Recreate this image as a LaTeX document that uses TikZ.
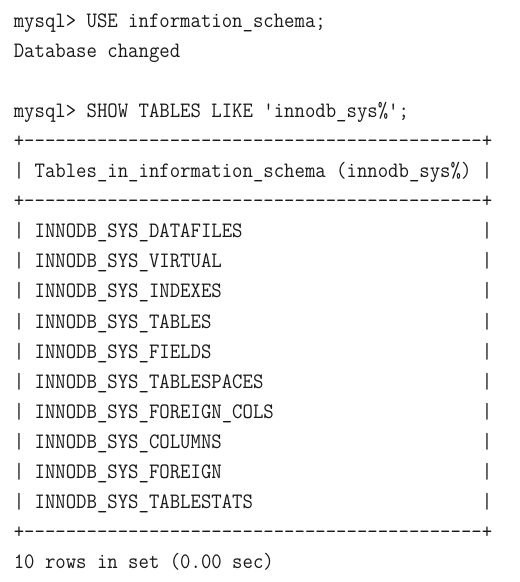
\documentclass[tikz,border=0pt]{standalone}
\usepackage{fontspec}
\setmonofont[FakeStretch=0.918]{Latin Modern Mono}
\newlength\cw
\newcommand\mfont{\ttfamily\fontsize{22pt}{30pt}\selectfont\frenchspacing}
\newcommand\padto[2]{\settowidth{\cw}{0}\makebox[#1\cw][l]{#2}}
\newcommand\dashrule{+\foreach \i in {1,...,44}{-}+}
\tikzset{
  ln/.style={anchor=base west, inner sep=0pt, outer sep=0pt, font=\mfont, text=black!90}
}
\begin{document}
\begin{tikzpicture}[x=1pt,y=1pt]
\useasboundingbox (0,0) rectangle (520,-582);
\def\xo{13.8}
\node[ln] (l0)  at (\xo,-27.0)  {mysql> USE information\_schema;};
\node[ln] (l1)  at (\xo,-57.1)  {Database changed};
\node[ln] (l3)  at (\xo,-117.3) {mysql> SHOW TABLES LIKE 'innodb\_sys\%';};
\node[ln] (l4)  at (\xo,-147.4) {\dashrule};
\node[ln] (l5)  at (\xo,-177.5) {| Tables\_in\_information\_schema (innodb\_sys\%) |};
\node[ln] (l6)  at (\xo,-207.6) {\dashrule};
\node[ln] (r1)  at (\xo,-237.7) {| \padto{42}{INNODB\_SYS\_DATAFILES} |};
\node[ln] (r2)  at (\xo,-267.8) {| \padto{42}{INNODB\_SYS\_VIRTUAL} |};
\node[ln] (r3)  at (\xo,-297.9) {| \padto{42}{INNODB\_SYS\_INDEXES} |};
\node[ln] (r4)  at (\xo,-328.0) {| \padto{42}{INNODB\_SYS\_TABLES} |};
\node[ln] (r5)  at (\xo,-358.1) {| \padto{42}{INNODB\_SYS\_FIELDS} |};
\node[ln] (r6)  at (\xo,-388.2) {| \padto{42}{INNODB\_SYS\_TABLESPACES} |};
\node[ln] (r7)  at (\xo,-418.3) {| \padto{42}{INNODB\_SYS\_FOREIGN\_COLS} |};
\node[ln] (r8)  at (\xo,-448.4) {| \padto{42}{INNODB\_SYS\_COLUMNS} |};
\node[ln] (r9)  at (\xo,-478.5) {| \padto{42}{INNODB\_SYS\_FOREIGN} |};
\node[ln] (r10) at (\xo,-508.6) {| \padto{42}{INNODB\_SYS\_TABLESTATS} |};
\node[ln] (l17) at (\xo,-538.7) {\dashrule};
\node[ln] (l18) at (\xo,-568.8) {10 rows in set (0.00 sec)};
\end{tikzpicture}
\end{document}
